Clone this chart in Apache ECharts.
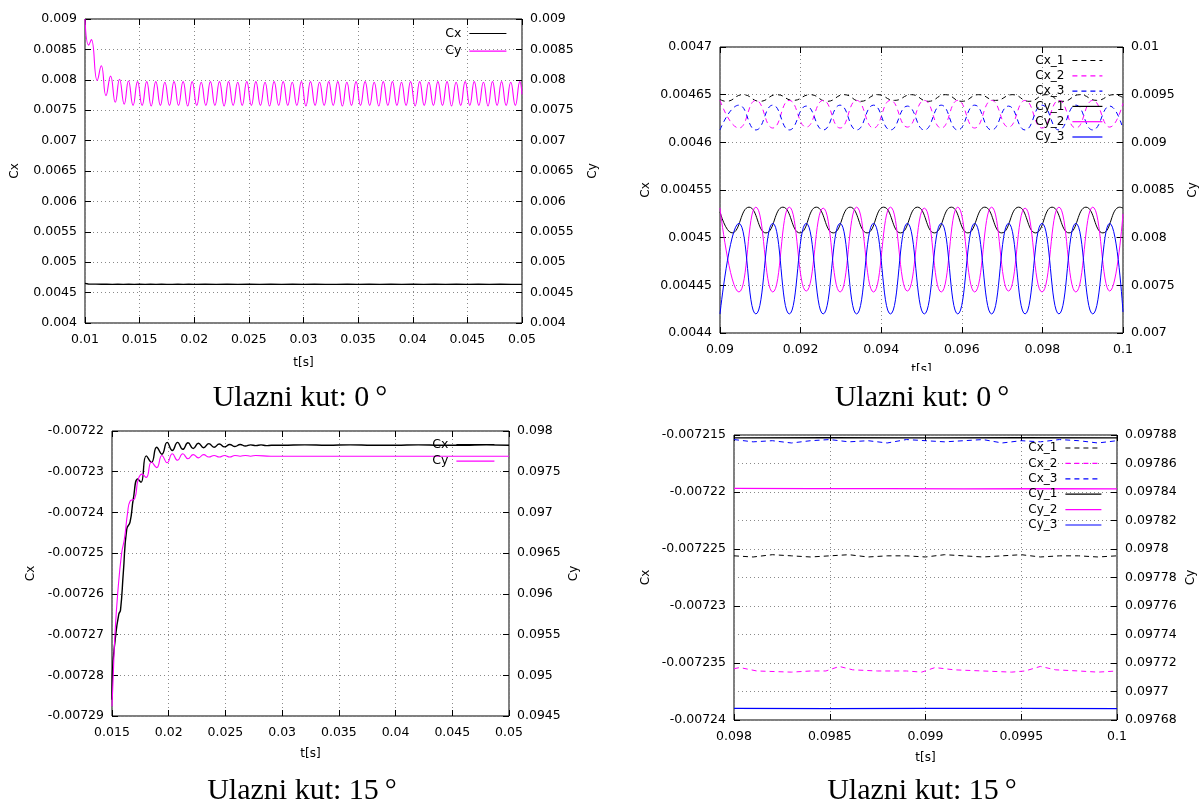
<!DOCTYPE html>
<html><head><meta charset="utf-8">
<script src="https://cdn.jsdelivr.net/npm/echarts@6/dist/echarts.min.js"></script>
<style>html,body{margin:0;padding:0;background:#fff}#c{width:1202px;height:807px}</style>
</head><body><div id="c"></div><script>
// ---------- Panel 1 (Ulazni kut 0°, t 0.01-0.05) ----------
const p1Cx = [[0.0100,0.004652],[0.0103,0.004641],[0.0107,0.004639],[0.0110,0.004640],[0.0115,0.004637],[0.0120,0.004639],[0.0125,0.004636],[0.0130,0.004638],[0.0135,0.004635],[0.0140,0.004637],[0.0145,0.004636],[0.0150,0.004638],[0.0155,0.004635],[0.0160,0.004637],[0.0165,0.004636],[0.0170,0.004638],[0.0175,0.004636],[0.0180,0.004635],[0.0185,0.004637],[0.0190,0.004636],[0.0195,0.004638],[0.0200,0.004635],[0.0210,0.004637],[0.0220,0.004636],[0.0230,0.004638],[0.0240,0.004635],[0.0250,0.004637],[0.0260,0.004636],[0.0270,0.004638],[0.0280,0.004635],[0.0290,0.004637],[0.0300,0.004636],[0.0310,0.004638],[0.0320,0.004636],[0.0330,0.004635],[0.0340,0.004637],[0.0350,0.004636],[0.0360,0.004638],[0.0370,0.004635],[0.0380,0.004637],[0.0390,0.004636],[0.0400,0.004638],[0.0410,0.004635],[0.0420,0.004637],[0.0430,0.004636],[0.0440,0.004638],[0.0450,0.004635],[0.0460,0.004637],[0.0470,0.004636],[0.0480,0.004638],[0.0490,0.004635],[0.0500,0.004636]];
const p1Cy = [
[0.01000,0.00900],[0.01034,0.00857],[0.01058,0.00866],[0.01112,0.00799],[0.01149,0.00823],
[0.01192,0.00774],[0.01234,0.00806],[0.01277,0.00763],[0.01316,0.00801],[0.01359,0.00760],
[0.01398,0.00798],[0.01440,0.00758],[0.01481,0.00797],[0.01523,0.00758],[0.01565,0.00797],
[0.01606,0.00757],[0.01648,0.00797],[0.01690,0.00758],[0.01731,0.00796],[0.01773,0.00758],
[0.01815,0.00797],[0.01856,0.00758],[0.01898,0.00797],[0.01940,0.00757],[0.01981,0.00797],
[0.02023,0.00758],[0.02064,0.00796],[0.02106,0.00758],[0.02148,0.00797],[0.02189,0.00758],
[0.02231,0.00797],[0.02273,0.00757],[0.02314,0.00797],[0.02356,0.00758],[0.02398,0.00796],
[0.02439,0.00758],[0.02481,0.00797],[0.02523,0.00758],[0.02564,0.00797],[0.02606,0.00758],
[0.02648,0.00796],[0.02689,0.00757],[0.02731,0.00797],[0.02773,0.00758],[0.02814,0.00797],
[0.02856,0.00758],[0.02897,0.00796],[0.02939,0.00758],[0.02981,0.00797],[0.03022,0.00757],
[0.03064,0.00797],[0.03106,0.00758],[0.03147,0.00796],[0.03189,0.00758],[0.03231,0.00797],
[0.03272,0.00758],[0.03314,0.00797],[0.03356,0.00757],[0.03397,0.00796],[0.03439,0.00758],
[0.03481,0.00797],[0.03522,0.00758],[0.03564,0.00797],[0.03606,0.00758],[0.03647,0.00796],
[0.03689,0.00757],[0.03730,0.00797],[0.03772,0.00758],[0.03814,0.00797],[0.03855,0.00758],
[0.03897,0.00796],[0.03939,0.00758],[0.03980,0.00797],[0.04022,0.00757],[0.04064,0.00797],
[0.04105,0.00758],[0.04147,0.00796],[0.04189,0.00758],[0.04230,0.00797],[0.04272,0.00758],
[0.04314,0.00797],[0.04355,0.00757],[0.04397,0.00796],[0.04439,0.00758],[0.04480,0.00797],
[0.04522,0.00758],[0.04563,0.00797],[0.04605,0.00758],[0.04647,0.00796],[0.04689,0.00757],
[0.04730,0.00797],[0.04772,0.00758],[0.04813,0.00797],[0.04855,0.00758],[0.04897,0.00796],
[0.04939,0.00758],[0.04980,0.00797],[0.05000,0.00776]];

// ---------- Panel 2 (0°, t 0.09-0.1) ----------
const p2Cx1 = [[0.09000,0.004645],[0.09015,0.004643],[0.09057,0.004650],[0.09099,0.004643],[0.09141,0.004650],[0.09182,0.004644],[0.09224,0.004650],[0.09266,0.004643],[0.09308,0.004650],[0.09349,0.004643],[0.09391,0.004650],[0.09433,0.004644],[0.09475,0.004650],[0.09517,0.004643],[0.09559,0.004650],[0.09600,0.004643],[0.09642,0.004650],[0.09684,0.004644],[0.09726,0.004650],[0.09767,0.004643],[0.09809,0.004650],[0.09851,0.004643],[0.09893,0.004650],[0.09935,0.004644],[0.09977,0.004650],[0.10000,0.004647]];
const p2Cx2 = [[0.09000,0.004644],[0.09047,0.004615],[0.09089,0.004644],[0.09131,0.004615],[0.09172,0.004644],[0.09214,0.004616],[0.09256,0.004644],[0.09298,0.004615],[0.09339,0.004644],[0.09381,0.004615],[0.09423,0.004644],[0.09465,0.004616],[0.09507,0.004644],[0.09549,0.004615],[0.09590,0.004644],[0.09632,0.004615],[0.09674,0.004644],[0.09716,0.004616],[0.09757,0.004644],[0.09799,0.004615],[0.09841,0.004644],[0.09883,0.004615],[0.09925,0.004644],[0.09967,0.004616],[0.10000,0.004641]];
const p2Cx3 = [[0.09000,0.004613],[0.09047,0.004639],[0.09089,0.004613],[0.09131,0.004639],[0.09172,0.004613],[0.09214,0.004638],[0.09256,0.004613],[0.09298,0.004639],[0.09339,0.004613],[0.09381,0.004639],[0.09423,0.004613],[0.09465,0.004638],[0.09507,0.004613],[0.09549,0.004639],[0.09590,0.004613],[0.09632,0.004639],[0.09674,0.004613],[0.09716,0.004638],[0.09757,0.004613],[0.09799,0.004639],[0.09841,0.004613],[0.09883,0.004639],[0.09925,0.004613],[0.09967,0.004638],[0.10000,0.004614]];
const p2Cy1 = [[0.09000,0.00827],[0.09030,0.00805],[0.09072,0.00832],[0.09114,0.00805],[0.09156,0.00832],[0.09198,0.00805],[0.09239,0.00832],[0.09281,0.00805],[0.09323,0.00832],[0.09365,0.00805],[0.09406,0.00832],[0.09448,0.00805],[0.09490,0.00832],[0.09532,0.00805],[0.09574,0.00832],[0.09615,0.00805],[0.09657,0.00832],[0.09699,0.00805],[0.09741,0.00832],[0.09783,0.00805],[0.09824,0.00832],[0.09866,0.00805],[0.09908,0.00832],[0.09950,0.00805],[0.09992,0.00832],[0.10000,0.00831]];
const p2Cy2 = [[0.09000,0.00831],[0.09047,0.00743],[0.09089,0.00832],[0.09131,0.00743],[0.09172,0.00832],[0.09214,0.00744],[0.09256,0.00831],[0.09298,0.00743],[0.09339,0.00832],[0.09381,0.00743],[0.09423,0.00832],[0.09465,0.00744],[0.09507,0.00831],[0.09549,0.00743],[0.09590,0.00832],[0.09632,0.00743],[0.09674,0.00832],[0.09716,0.00744],[0.09757,0.00831],[0.09799,0.00743],[0.09841,0.00832],[0.09883,0.00743],[0.09925,0.00832],[0.09967,0.00744],[0.10000,0.00825]];
const p2Cy3 = [[0.09000,0.00720],[0.09047,0.00815],[0.09089,0.00720],[0.09131,0.00815],[0.09172,0.00720],[0.09214,0.00815],[0.09256,0.00720],[0.09298,0.00815],[0.09339,0.00720],[0.09381,0.00815],[0.09423,0.00720],[0.09465,0.00815],[0.09507,0.00720],[0.09549,0.00815],[0.09590,0.00720],[0.09632,0.00815],[0.09674,0.00720],[0.09716,0.00815],[0.09757,0.00720],[0.09799,0.00815],[0.09841,0.00720],[0.09883,0.00815],[0.09925,0.00720],[0.09967,0.00815],[0.10000,0.00722]];

// ---------- Panel 3 (15°, t 0.015-0.05) ----------
const p3Cx = [[0.01500,-0.0072860],[0.01503,-0.0072800],[0.01533,-0.0072700],[0.01560,-0.0072650],[0.01575,-0.0072640],[0.01600,-0.0072547],[0.01630,-0.0072441],[0.01659,-0.0072424],[0.01688,-0.0072367],[0.01727,-0.0072318],[0.01756,-0.0072326],[0.01802,-0.0072261],[0.01848,-0.0072277],[0.01894,-0.0072240],[0.01940,-0.0072257],[0.01986,-0.0072228],[0.02032,-0.0072248],[0.02078,-0.0072228],[0.02124,-0.0072245],[0.02170,-0.0072229],[0.02216,-0.0072243],[0.02262,-0.0072230],[0.02308,-0.0072241],[0.02354,-0.0072231],[0.02400,-0.0072240],[0.02446,-0.0072232],[0.02492,-0.0072239],[0.02538,-0.0072233],[0.02584,-0.0072238],[0.02630,-0.0072233],[0.02676,-0.0072237],[0.02722,-0.0072234],[0.02768,-0.0072236],[0.02814,-0.0072234],[0.02860,-0.0072236],[0.02906,-0.0072235],[0.03000,-0.0072235],[0.03200,-0.0072234],[0.03400,-0.0072235],[0.03600,-0.0072234],[0.03800,-0.0072235],[0.04000,-0.0072235],[0.04200,-0.0072234],[0.04400,-0.0072235],[0.04600,-0.0072235],[0.04800,-0.0072234],[0.05000,-0.0072235]];
const p3Cy = [[0.01500,0.09462],[0.01511,0.09500],[0.01526,0.09550],[0.01550,0.09600],[0.01585,0.09650],[0.01610,0.09668],[0.01638,0.09700],[0.01660,0.09714],[0.01700,0.09717],[0.01730,0.09740],[0.01765,0.09747],[0.01802,0.09743],[0.01848,0.09762],[0.01894,0.09755],[0.01940,0.09770],[0.01986,0.09761],[0.02032,0.09772],[0.02078,0.09764],[0.02124,0.09772],[0.02170,0.09766],[0.02216,0.09771],[0.02262,0.09767],[0.02308,0.09771],[0.02354,0.09768],[0.02400,0.09770],[0.02446,0.09768],[0.02492,0.09770],[0.02538,0.09768],[0.02584,0.09770],[0.02630,0.09769],[0.02676,0.09770],[0.02722,0.09769],[0.02768,0.09770],[0.02900,0.09769],[0.03500,0.09769],[0.04000,0.09769],[0.04500,0.09769],[0.05000,0.09769]];

// ---------- Panel 4 (15°, t 0.098-0.1) ----------
const p4Cx1 = [[0.0980,-0.0072256],[0.0981,-0.0072257],[0.0982,-0.0072255],[0.0983,-0.0072256],[0.0984,-0.0072257],[0.0985,-0.0072256],[0.0986,-0.0072255],[0.0987,-0.0072257],[0.0988,-0.0072256],[0.0989,-0.0072256],[0.0990,-0.0072257],[0.0991,-0.0072255],[0.0992,-0.0072256],[0.0993,-0.0072257],[0.0994,-0.0072256],[0.0995,-0.0072255],[0.0996,-0.0072257],[0.0997,-0.0072256],[0.0998,-0.0072256],[0.0999,-0.0072257],[0.1000,-0.0072256]];
const p4Cx2 = [[0.09800,-0.0072355],[0.09803,-0.0072354],[0.09812,-0.0072357],[0.09830,-0.0072358],[0.09840,-0.0072357],[0.09848,-0.0072357],[0.09855,-0.0072353],[0.09862,-0.0072356],[0.09875,-0.0072357],[0.09890,-0.0072357],[0.09898,-0.0072358],[0.09905,-0.0072354],[0.09915,-0.0072356],[0.09930,-0.0072357],[0.09945,-0.0072358],[0.09952,-0.0072357],[0.09960,-0.0072353],[0.09968,-0.0072356],[0.09980,-0.0072357],[0.09990,-0.0072358],[0.10000,-0.0072357]];
const p4Cx3 = [[0.0980,-0.0072154],[0.0981,-0.0072156],[0.0982,-0.0072155],[0.0983,-0.0072157],[0.0984,-0.0072155],[0.0985,-0.0072154],[0.0986,-0.0072156],[0.0987,-0.0072155],[0.0988,-0.0072157],[0.0989,-0.0072154],[0.0990,-0.0072155],[0.0991,-0.0072156],[0.0992,-0.0072155],[0.0993,-0.0072154],[0.0994,-0.0072157],[0.0995,-0.0072155],[0.0996,-0.0072156],[0.0997,-0.0072154],[0.0998,-0.0072155],[0.0999,-0.0072157],[0.1000,-0.0072155]];
const p4Cy1 = [[0.0980,0.0978780],[0.0985,0.0978782],[0.0990,0.0978780],[0.0995,0.0978781],[0.1000,0.0978780]];
const p4Cy2 = [[0.0980,0.0978425],[0.0984,0.0978423],[0.0988,0.0978424],[0.0992,0.0978422],[0.0996,0.0978424],[0.1000,0.0978422]];
const p4Cy3 = [[0.0980,0.0976882],[0.0985,0.0976880],[0.0990,0.0976881],[0.0995,0.0976882],[0.1000,0.0976880]];

const captions = ['Ulazni kut: 0\u2009°', 'Ulazni kut: 15\u2009°'];

const FONT = 'DejaVu Sans';
const fmt = v => String(+(+v).toPrecision(7));
const grids = [
  {left:85, top:19, width:437, height:304},
  {left:720, top:47, width:403, height:286},
  {left:112, top:431, width:397, height:285},
  {left:734, top:435, width:383, height:285}
].map(g => Object.assign({show:true, borderColor:'#000', borderWidth:1, backgroundColor:'transparent'}, g));

const gridLine = {show:true, lineStyle:{color:'#8a8a8a', type:[1,3], width:1}};
const tick = {show:true, inside:true, length:6, lineStyle:{color:'#000', width:1}};
const lbl = m => ({fontFamily:FONT, fontSize:12.5, color:'#000', margin:m, formatter:fmt});

function xAxes(g, min, max, interval, gap){
  return [
    {type:'value', gridIndex:g, position:'bottom', min, max, interval, name:'t[s]', nameLocation:'middle', nameGap:gap,
     nameTextStyle:{fontFamily:FONT, fontSize:12, color:'#000'}, axisLine:{show:false}, axisTick:tick,
     axisLabel:lbl(10), splitLine:gridLine},
    {type:'value', gridIndex:g, position:'top', min, max, interval, axisLine:{show:false}, axisTick:tick,
     axisLabel:{show:false}, splitLine:{show:false}}
  ];
}
function yAxis(g, pos, min, max, interval, name, gap, split){
  return {type:'value', gridIndex:g, position:pos, min, max, interval, name, nameLocation:'middle', nameGap:gap,
    nameTextStyle:{fontFamily:FONT, fontSize:12, color:'#000'}, axisLine:{show:false}, axisTick:tick,
    axisLabel:lbl(8), splitLine: split ? gridLine : {show:false}, scale:true};
}

const xAxis = [].concat(
  xAxes(0, 0.01, 0.05, 0.005, 34),
  xAxes(1, 0.09, 0.1, 0.002, 31),
  xAxes(2, 0.015, 0.05, 0.005, 32),
  xAxes(3, 0.098, 0.1, 0.0005, 32)
);
const yAxisArr = [
  yAxis(0,'left', 0.004, 0.009, 0.0005, 'Cx', 64, true),
  yAxis(0,'right',0.004, 0.009, 0.0005, 'Cy', 65, false),
  yAxis(1,'left', 0.0044, 0.0047, 0.00005, 'Cx', 68, true),
  yAxis(1,'right',0.007, 0.01, 0.0005, 'Cy', 64, false),
  yAxis(2,'left', -0.00729, -0.00722, 0.00001, 'Cx', 75, true),
  yAxis(2,'right',0.0945, 0.098, 0.0005, 'Cy', 59, false),
  yAxis(3,'left', -0.00724, -0.007215, 0.000005, 'Cx', 82, false),
  yAxis(3,'right',0.09768, 0.09788, 0.00002, 'Cy', 68, true)
];

const BLACK='#000000', MAG='#ff00ff', BLUE='#0000ff';
function line(name, data, xi, yi, color, dashed, width, smooth){
  return {type:'line', name, data, xAxisIndex:xi, yAxisIndex:yi, symbol:'none', showSymbol:false,
    smooth: smooth, color, animation:false, emphasis:{disabled:true},
    lineStyle:{color, width: width || 1, type: dashed ? [5,4] : 'solid'}};
}
const series = [
  line('Cx', p1Cx, 0, 0, BLACK, false, 1.4, false),
  line('Cy', p1Cy, 0, 1, MAG, false, 1.1, 0.5),
  line('Cx_1', p2Cx1, 2, 2, BLACK, true, 1, 0.5),
  line('Cx_2', p2Cx2, 2, 2, MAG, true, 1, 0.5),
  line('Cx_3', p2Cx3, 2, 2, BLUE, true, 1, 0.5),
  line('Cy_1', p2Cy1, 2, 3, BLACK, false, 1, 0.5),
  line('Cy_2', p2Cy2, 2, 3, MAG, false, 1, 0.5),
  line('Cy_3', p2Cy3, 2, 3, BLUE, false, 1, 0.5),
  line('Cx', p3Cx, 4, 4, BLACK, false, 1.4, 0.5),
  line('Cy', p3Cy, 4, 5, MAG, false, 1.1, 0.5),
  line('Cx_1', p4Cx1, 6, 6, BLACK, true, 1, false),
  line('Cx_2', p4Cx2, 6, 6, MAG, true, 1, false),
  line('Cx_3', p4Cx3, 6, 6, BLUE, true, 1, false),
  line('Cy_1', p4Cy1, 6, 7, BLACK, false, 1.2, false),
  line('Cy_2', p4Cy2, 6, 7, MAG, false, 1.2, false),
  line('Cy_3', p4Cy3, 6, 7, BLUE, false, 1.2, false)
];

function legend(data, right, top, w, gap, fs){
  return {data, right, top, orient:'vertical', align:'right', itemWidth:w, itemHeight:12, itemGap:gap,
    padding:0, selectedMode:false, backgroundColor:'transparent',
    itemStyle:{opacity:0, borderWidth:0},
    lineStyle:{width:1.2},
    textStyle:{fontFamily:FONT, fontSize:fs, color:'#000', padding:[0,3,0,0]}};
}
const six = ['Cx_1','Cx_2','Cx_3','Cy_1','Cy_2','Cy_3'];
const legends = [
  legend(['Cx','Cy'], 695, 27, 37, 4.7, 12.5),
  legend(six, 99, 54.5, 30, 3.3, 12),
  legend(['Cx','Cy'], 707, 438, 38, 3.7, 12.5),
  legend(six, 100, 442, 36, 3.4, 12)
];

function cap(text, x, y){
  return {type:'text', x, y, z:101, style:{text, fontFamily:'Liberation Serif', fontSize:30, fill:'#000', align:'center', verticalAlign:'middle'}};
}
const graphic = [
  {type:'rect', shape:{x:610, y:371, width:592, height:40}, style:{fill:'#fff'}, z:100},
  cap(captions[0], 300, 398),
  cap(captions[0], 922, 398),
  cap(captions[1], 302, 791),
  cap(captions[1], 922, 791)
];

const chart = echarts.init(document.getElementById('c'));
chart.setOption({backgroundColor:'#fff', animation:false, grid:grids, xAxis, yAxis:yAxisArr, series, legend:legends, graphic});
</script></body></html>
